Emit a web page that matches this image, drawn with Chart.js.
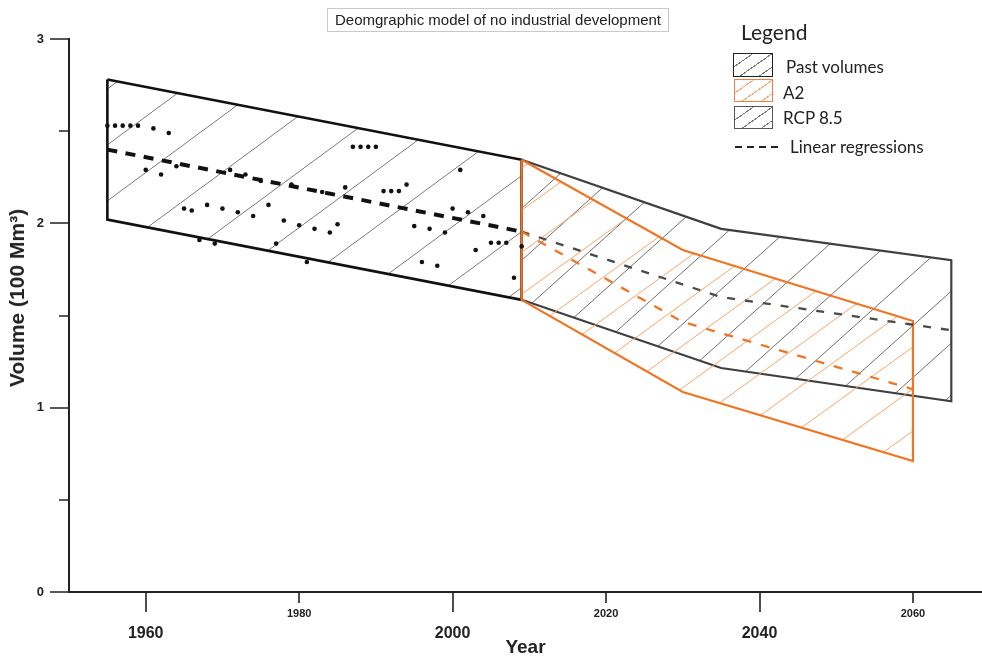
<!DOCTYPE html>
<html lang="en">
<head>
<meta charset="utf-8">
<title>Deomgraphic model of no industrial development</title>
<script src="https://cdn.jsdelivr.net/npm/chart.js@4.4.1/dist/chart.umd.min.js"></script>
<style>
  body{margin:0;background:#fff;}
  .frame{position:relative;width:982px;height:659px;overflow:hidden;background:#fff;}
  #chart{position:absolute;left:0;top:0;}
  .title-box{position:absolute;left:327px;top:8px;width:340px;height:22px;border:1px solid #c9c9c9;
    font:15px "Liberation Sans",Arial,sans-serif;color:#222;text-align:center;line-height:22px;white-space:nowrap;}
  .ytitle{position:absolute;left:17px;top:298px;transform:translate(-50%,-50%) rotate(-90deg);
    font:bold 21px "Liberation Sans",Arial,sans-serif;color:#222;white-space:nowrap;}
  .lg{position:absolute;font-family:Lato,"Open Sans",sans-serif;color:#222;white-space:nowrap;}
  .lg-head{left:741px;top:19px;font-size:21px;}
  .lg-text{font-size:17px;line-height:20px;}
  .lg-box{position:absolute;box-sizing:border-box;}
  .hatch-past{background:repeating-linear-gradient(145deg,transparent 0 10px,#777 10px 11px);border:1.5px solid #222;}
  .hatch-a2{background:repeating-linear-gradient(145deg,transparent 0 10px,#f6a56b 10px 11px);border:1.5px solid #f08040;}
  .hatch-rcp{background:repeating-linear-gradient(145deg,transparent 0 10px,#777 10px 11px);border:1.5px solid #555;}
  .lg-dash{position:absolute;left:735px;top:146px;width:43px;height:2px;
    background:repeating-linear-gradient(90deg,#222 0 7px,transparent 7px 12px);}
</style>
</head>
<body>
<div class="frame">
  <canvas id="chart" width="982" height="659"></canvas>
  <div class="title-box">Deomgraphic model of no industrial development</div>
  <div class="ytitle">Volume (100 Mm³)</div>

  <div class="lg lg-head">Legend</div>
  <div class="lg-box hatch-past" style="left:733px;top:53px;width:40px;height:24px"></div>
  <div class="lg-box hatch-a2" style="left:734px;top:79px;width:39px;height:23px"></div>
  <div class="lg-box hatch-rcp" style="left:734px;top:106px;width:39px;height:23px"></div>
  <div class="lg lg-text" style="left:786px;top:57px">Past volumes</div>
  <div class="lg lg-text" style="left:783px;top:83px">A2</div>
  <div class="lg lg-text" style="left:783px;top:108px">RCP 8.5</div>
  <div class="lg-dash"></div>
  <div class="lg lg-text" style="left:790px;top:137px">Linear regressions</div>
</div>
<script>
// observed yearly volumes (100 Mm3)
const pastYears = [1955, 1956, 1957, 1958, 1959, 1960, 1961, 1962, 1963, 1964,
  1965, 1966, 1967, 1968, 1969, 1970, 1971, 1972, 1973, 1974,
  1975, 1976, 1977, 1978, 1979, 1980, 1981, 1982, 1983, 1984,
  1985, 1986, 1987, 1988, 1989, 1990, 1991, 1992, 1993, 1994,
  1995, 1996, 1997, 1998, 1999, 2000, 2001, 2002, 2003, 2004,
  2005, 2006, 2007, 2008, 2009];
const pastVolumes = [2.53, 2.53, 2.53, 2.53, 2.53, 2.29, 2.515, 2.265, 2.49, 2.31,
  2.08, 2.07, 1.91, 2.10, 1.89, 2.08, 2.29, 2.06, 2.265, 2.04,
  2.23, 2.10, 1.89, 2.015, 2.21, 1.99, 1.79, 1.97, 2.17, 1.95,
  1.995, 2.195, 2.415, 2.415, 2.415, 2.415, 2.175, 2.175, 2.175, 2.21,
  1.985, 1.79, 1.97, 1.77, 1.95, 2.08, 2.29, 2.06, 1.855, 2.04,
  1.895, 1.895, 1.895, 1.705, 1.875];

// envelopes
const pastEnvYears = [1955, 2009];
const pastUpper = [2.78, 2.345];
const pastLower = [2.02, 1.585];
const a2Years = [2009, 2030, 2060];
const a2Upper = [2.345, 1.855, 1.47];
const a2Lower = [1.585, 1.085, 0.71];
const rcpYears = [2009, 2035, 2065];
const rcpUpper = [2.345, 1.97, 1.80];
const rcpLower = [1.585, 1.215, 1.035];

// linear regressions
const pastRegYears = [1955, 2009];
const pastReg = [2.40, 1.955];
const a2Reg = [1.955, 1.465, 1.10];
const rcpReg = [1.955, 1.60, 1.42];

// axes
const xTickYears = [1960, 1980, 2000, 2020, 2040, 2060];
const bigYears = [1960, 2000, 2040];
const yTickValues = [0, 0.5, 1, 1.5, 2, 2.5, 3];

const AXIS_FONT = "'Liberation Sans', Arial, sans-serif";
const xy = (xs, ys) => xs.map((x, i) => ({x, y: ys[i]}));

function polygon(xs, upper, lower) {
  const pts = xy(xs, upper);
  for (let i = xs.length - 1; i >= 0; i--) pts.push({x: xs[i], y: lower[i]});
  pts.push({x: xs[0], y: upper[0]});
  return pts;
}

const canvas = document.getElementById('chart');
const ctx = canvas.getContext('2d');

// diagonal hatch tile: one line from bottom-left to top-right, wraps into continuous lines
function hatch(color, w, h) {
  const c = document.createElement('canvas');
  c.width = w; c.height = h;
  const g = c.getContext('2d');
  g.strokeStyle = color;
  g.lineWidth = 1;
  g.beginPath();
  for (let k = -1; k <= 1; k++) { g.moveTo(k * w, h); g.lineTo((k + 1) * w, 0); }
  g.stroke();
  return ctx.createPattern(c, 'repeat');
}

const tickMarks = {
  id: 'tickMarks',
  afterDraw(chart) {
    const {ctx, scales: {x, y}} = chart;
    ctx.save();
    ctx.strokeStyle = '#222';
    ctx.lineWidth = 1.6;
    ctx.beginPath();
    x.ticks.forEach(t => {
      const px = Math.round(x.getPixelForValue(t.value));
      const len = bigYears.includes(t.value) ? 20 : 11;
      ctx.moveTo(px, x.top); ctx.lineTo(px, x.top + len);
    });
    y.ticks.forEach(t => {
      const py = Math.round(y.getPixelForValue(t.value));
      const len = Number.isInteger(t.value) ? 19 : 10;
      ctx.moveTo(y.right, py); ctx.lineTo(y.right - len, py);
    });
    ctx.stroke();
    ctx.restore();
  }
};

function envelope(label, data, border, width, fillPattern, order) {
  return {type: 'line', label, data, order, borderColor: border, borderWidth: width,
    backgroundColor: fillPattern, fill: 'shape', pointRadius: 0, pointHoverRadius: 0,
    borderJoinStyle: 'miter', tension: 0};
}
function regression(label, data, color, width, dash, order) {
  return {type: 'line', label, data, order, borderColor: color, borderWidth: width,
    borderDash: dash, fill: false, pointRadius: 0, pointHoverRadius: 0, tension: 0};
}

new Chart(ctx, {
  type: 'line',
  data: {
    datasets: [
      {type: 'scatter', label: 'Past volumes', data: xy(pastYears, pastVolumes), order: 0,
        pointRadius: 2.3, pointBackgroundColor: '#111', pointBorderWidth: 0, showLine: false},
      regression('Past regression', xy(pastRegYears, pastReg), '#111', 4, [10, 8.5], 1),
      regression('A2 regression', xy(a2Years, a2Reg), '#f07522', 2.3, [9, 10], 1),
      regression('RCP 8.5 regression', xy(rcpYears, rcpReg), '#4a4a4a', 2.3, [8, 10], 1),
      envelope('A2', polygon(a2Years, a2Upper, a2Lower), '#f07522', 2.2, hatch('#f6a56b', 58, 42), 2),
      envelope('RCP 8.5', polygon(rcpYears, rcpUpper, rcpLower), '#3f3f3f', 2.2, hatch('#6f6f6f', 58, 52), 3),
      envelope('Past volumes', polygon(pastEnvYears, pastUpper, pastLower), '#111', 2.6, hatch('#7a7a7a', 76, 56), 4)
    ]
  },
  options: {
    responsive: false,
    animation: false,
    events: [],
    layout: {autoPadding: false, padding: {top: 39, right: 0, bottom: 0, left: 0}},
    plugins: {legend: {display: false}, tooltip: {enabled: false}},
    scales: {
      x: {
        type: 'linear', min: 1950, max: 2069,
        afterBuildTicks: s => { s.ticks = xTickYears.map(v => ({value: v})); },
        afterFit: s => { s.height = 67; },
        grid: {display: false, drawTicks: false},
        border: {display: true, color: '#222', width: 2},
        ticks: {
          padding: 15, color: '#222', autoSkip: false, maxRotation: 0,
          font: c => bigYears.includes(c.tick && c.tick.value)
            ? {family: AXIS_FONT, size: 16, weight: 'bold', lineHeight: 1.1}
            : {family: AXIS_FONT, size: 11, weight: 'bold', lineHeight: 1.2},
          callback: v => bigYears.includes(v) ? ['', String(v)] : String(v)
        },
        title: {display: true, text: 'Year', color: '#222', padding: 0,
          font: {family: AXIS_FONT, size: 19, weight: 'bold'}}
      },
      y: {
        min: 0, max: 3,
        afterBuildTicks: s => { s.ticks = yTickValues.map(v => ({value: v})); },
        afterFit: s => { s.width = 69; },
        grid: {display: false, drawTicks: false},
        border: {display: true, color: '#222', width: 2},
        ticks: {padding: 25, color: '#222', font: {family: AXIS_FONT, size: 13, weight: 'bold'},
          callback: v => Number.isInteger(v) ? String(v) : ''}
      }
    }
  },
  plugins: [tickMarks]
});
</script>
</body>
</html>
